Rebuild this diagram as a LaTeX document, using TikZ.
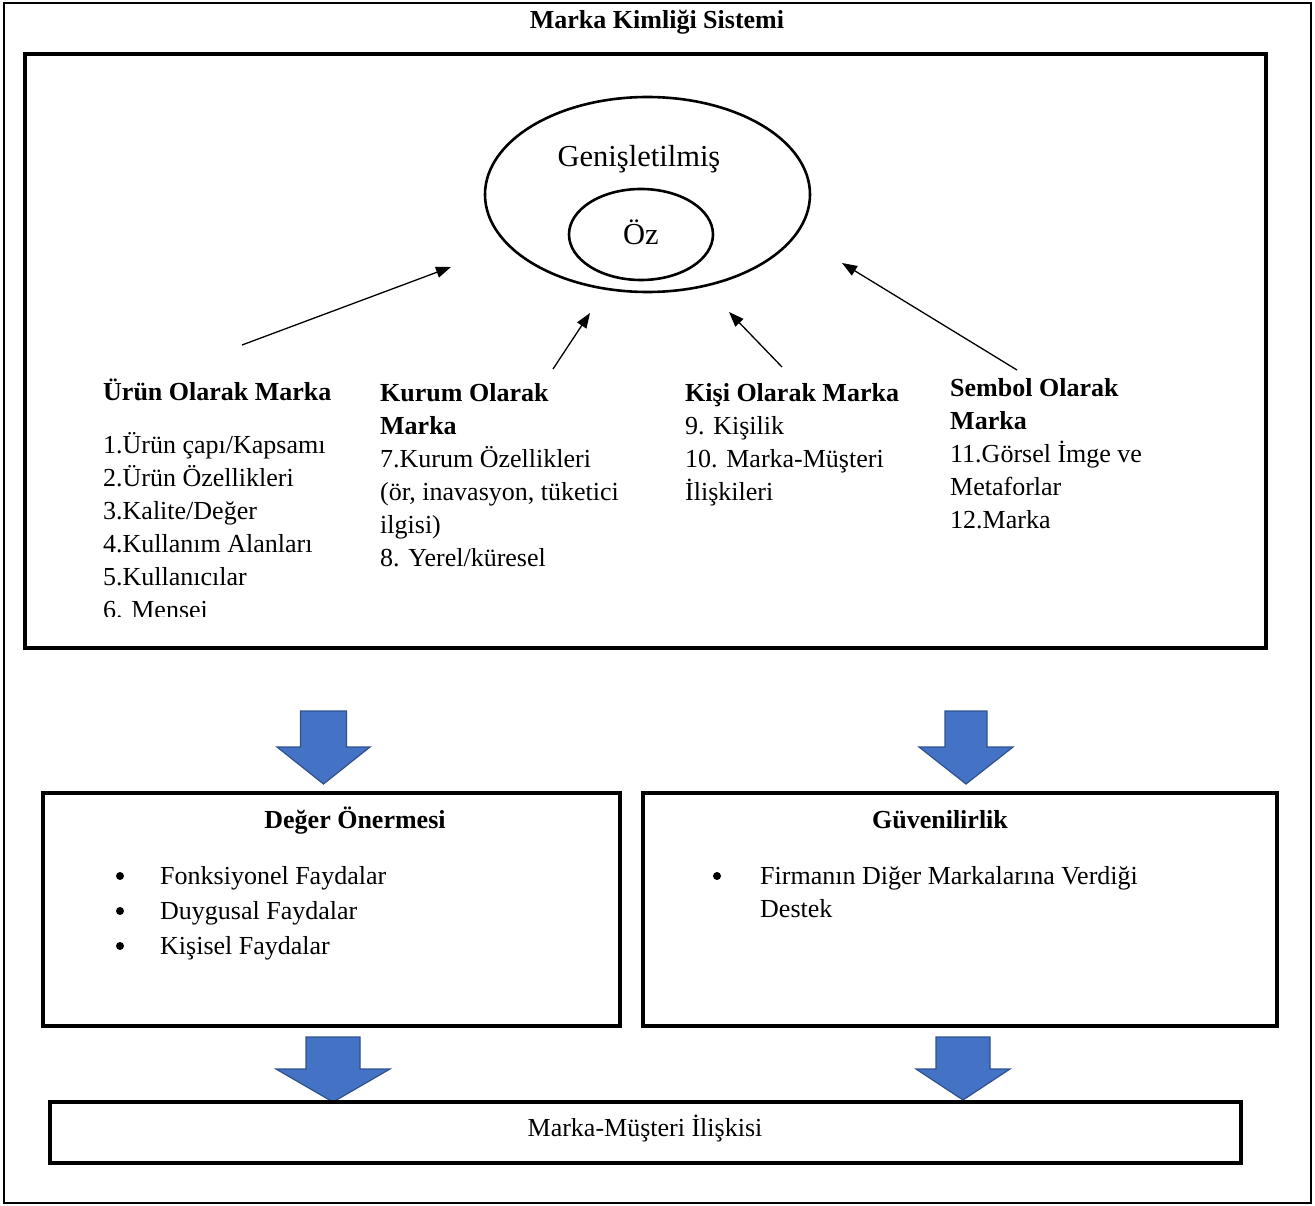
\documentclass[tikz,border=0pt]{standalone}
\usepackage{fontspec}
\setmainfont{Liberation Serif}
\usetikzlibrary{arrows.meta}
\definecolor{arrowblue}{HTML}{4472C4}
\definecolor{arrowedge}{HTML}{2F528F}
% thick down-pointing block arrow: centre x, top y, shaft half width, head half width, head start y, tip y
\newcommand\bigdownarrow[6]{%
  \filldraw[blockarrow] (#1-#3,#2) -- (#1+#3,#2) -- (#1+#3,#5) -- (#1+#4,#5)
    -- (#1,#6) -- (#1-#4,#5) -- (#1-#3,#5) -- cycle;}
\begin{document}
\begin{tikzpicture}[x=1pt,y=-1pt,
  txt/.style={inner sep=0pt, anchor=base west, font=\fontsize{26}{33}\selectfont},
  boldtxt/.style={txt, font=\fontsize{26}{33}\selectfont\bfseries},
  ctxt/.style={txt, anchor=base},
  cbold/.style={boldtxt, anchor=base},
  bigtxt/.style={inner sep=0pt, anchor=base, font=\fontsize{30.5}{36}\selectfont},
  dot/.style={circle, fill=black, inner sep=0pt, minimum size=8pt},
  panel/.style={draw=black, line width=3.2pt},
  outerframe/.style={draw=black, line width=2.2pt},
  thinarrow/.style={-{Triangle[length=15pt,width=11pt]}, line width=1.3pt},
  blockarrow/.style={fill=arrowblue, draw=arrowedge, line width=1.2pt, line join=miter},
  ring/.style={draw=black, line width=2.6pt}
]
\useasboundingbox (0,0) rectangle (1315,1206);

% outer frame and title
\draw[outerframe] (4,3) rectangle (1311,1203);
\node[cbold] (title) at (657,29) {Marka Kimliği Sistemi};

% upper panel with the identity model
\draw[panel] (25,54) rectangle (1266,648);
\draw[ring] (647.5,194.5) ellipse [x radius=162.5, y radius=97.5];
\draw[ring] (641,234.5) ellipse [x radius=72, y radius=45.5];
\node[bigtxt] (genis) at (639,167) {Genişletilmiş};
\node[bigtxt] (oz) at (641,245) {Öz};

% four perspectives
\node[boldtxt] (urun) at (103,400) {Ürün Olarak Marka};
\begin{scope}
  \clip (25,54) rectangle (1266,616);
  \foreach \t [count=\i] in {1.Ürün çapı/Kapsamı, 2.Ürün Özellikleri, 3.Kalite/Değer,
      4.Kullanım Alanları, 5.Kullanıcılar, 6. Mensei}
    \node[txt] (u\i) at (103,{453+33*(\i-1)}) {\t};
\end{scope}

\node[boldtxt] (kurum) at (380,401) {Kurum Olarak};
\node[boldtxt] (kurum2) at (380,434) {Marka};
\node[txt] (k1) at (380,467) {7.Kurum Özellikleri};
\node[txt] (k2) at (380,500) {(ör, inavasyon, tüketici};
\node[txt] (k3) at (380,533) {ilgisi)};
\node[txt] (k4) at (380,566) {8. Yerel/küresel};

\node[boldtxt] (kisi) at (685,401) {Kişi Olarak Marka};
\node[txt] (p1) at (685,434) {9. Kişilik};
\node[txt] (p2) at (685,467) {10. Marka-Müşteri};
\node[txt] (p3) at (685,500) {İlişkileri};

\node[boldtxt] (sembol) at (950,396) {Sembol Olarak};
\node[boldtxt] (sembol2) at (950,429) {Marka};
\node[txt] (s1) at (950,462) {11.Görsel İmge ve};
\node[txt] (s2) at (950,495) {Metaforlar};
\node[txt] (s3) at (950,528) {12.Marka};

% arrows from the perspectives towards the core
\coordinate (a1s) at (242,345); \coordinate (a1e) at (451,267);
\coordinate (a2s) at (553,369); \coordinate (a2e) at (590,313);
\coordinate (a3s) at (782,367); \coordinate (a3e) at (729,312);
\coordinate (a4s) at (1017,370); \coordinate (a4e) at (842,263);
\draw[thinarrow] (a1s) -- (a1e);
\draw[thinarrow] (a2s) -- (a2e);
\draw[thinarrow] (a3s) -- (a3e);
\draw[thinarrow] (a4s) -- (a4e);

% block arrows into the two middle boxes
\bigdownarrow{323.5}{711}{23}{46.5}{747}{784}
\bigdownarrow{966}{711}{21}{47}{747}{784}

% value proposition and credibility
\draw[panel] (43,793) rectangle (620,1026);
\node[cbold] (deger) at (355,828) {Değer Önermesi};
\foreach \t [count=\i] in {Fonksiyonel Faydalar, Duygusal Faydalar, Kişisel Faydalar} {
  \node[txt] (d\i) at (160,{884+35*(\i-1)}) {\t};
  \node[dot] (db\i) at (120,{876+35*(\i-1)}) {};
}

\draw[panel] (643,793) rectangle (1277,1026);
\node[cbold] (guven) at (940,828) {Güvenilirlik};
\node[dot] (gb1) at (717,876) {};
\node[txt] (g1) at (760,884) {Firmanın Diğer Markalarına Verdiği};
\node[txt] (g2) at (760,917) {Destek};

% block arrows into the relationship box
\bigdownarrow{333}{1037}{27}{57}{1069}{1102}
\bigdownarrow{963}{1037}{27}{47}{1069}{1100}

% brand-customer relationship
\draw[panel] (50,1102) rectangle (1241,1163);
\node[ctxt] (iliski) at (645,1136) {Marka-Müşteri İlişkisi};
\end{tikzpicture}
\end{document}
